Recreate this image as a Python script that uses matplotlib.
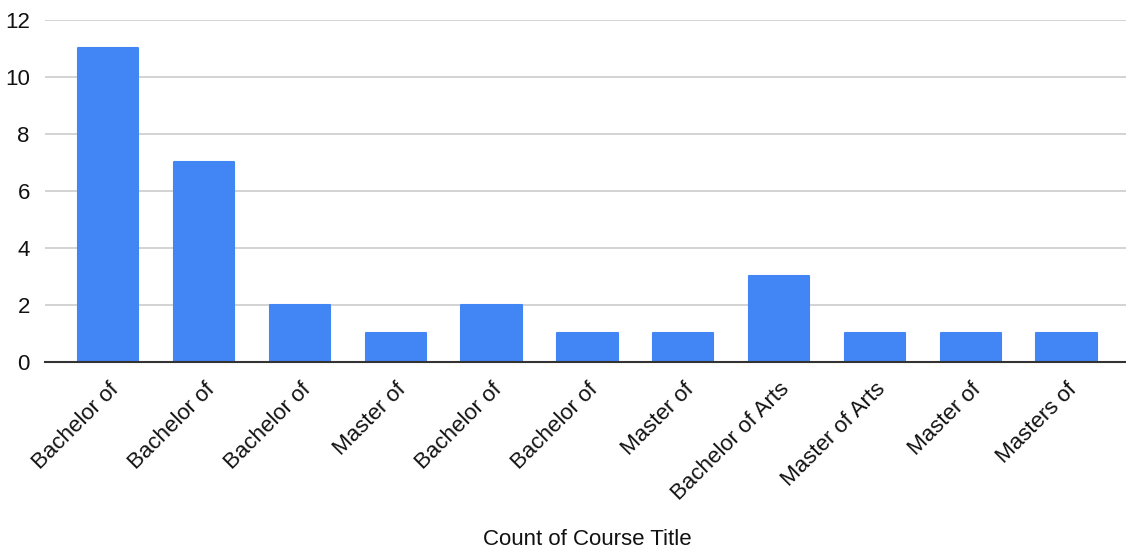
import numpy as np
import matplotlib.pyplot as plt

plt.rcParams['font.family'] = ['Liberation Sans', 'DejaVu Sans']

titles = ['Bachelor of', 'Bachelor of', 'Bachelor of', 'Master of', 'Bachelor of',
          'Bachelor of', 'Master of', 'Bachelor of Arts', 'Master of Arts',
          'Master of', 'Masters of']
counts = [11, 7, 2, 1, 2, 1, 1, 3, 1, 1, 1]

fig = plt.figure(figsize=(11.26, 5.51), dpi=100)
ax = fig.add_axes([0.04, 0.343, 0.96, 0.621])

x = np.arange(len(titles))
bars = ax.bar(x, counts, width=0.63, color='#4285f4', edgecolor='#4285f4',
              linewidth=1.5, zorder=3)
for b in bars:
    b.set_joinstyle('round')

ax.set_ylim(0, 12)
ax.set_xlim(-0.66, 10.62)
ax.set_yticks(range(0, 13, 2))
ax.yaxis.grid(True, color='#cccccc', linewidth=1.2, zorder=0)
ax.set_axisbelow(True)

for s in ['left', 'right', 'top']:
    ax.spines[s].set_visible(False)
ax.spines['bottom'].set_color('#333333')
ax.spines['bottom'].set_linewidth(1.5)
ax.spines['bottom'].set_zorder(4)

ax.tick_params(axis='both', length=0, labelsize=16, colors='#111111')
ax.tick_params(axis='y', pad=11)
ax.set_xticks(x)
ax.set_xticklabels(titles, rotation=45, ha='right', va='top',
                   rotation_mode='anchor')
ax.tick_params(axis='x', pad=12)

fig.text(0.522, 0.02, 'Count of Course Title', ha='center', va='center',
         fontsize=16, color='#111111')

fig.savefig('out.png', dpi=100)
